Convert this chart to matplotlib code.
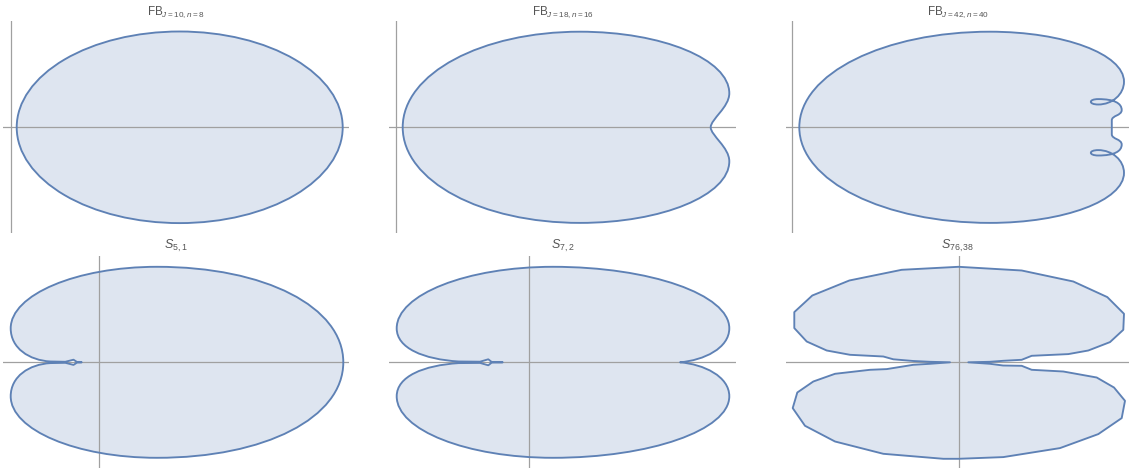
import matplotlib
matplotlib.use("Agg")
import matplotlib.pyplot as plt
from matplotlib.path import Path
from matplotlib.patches import PathPatch, Ellipse, Polygon

# ---------------------------------------------------------------- data
# Panel titles
TITLES = [r"FB$_{J=10,n=8}$", r"FB$_{J=18,n=16}$", r"FB$_{J=42,n=40}$",
          r"$S_{5,1}$", r"$S_{7,2}$", r"$S_{76,38}$"]

# FB_{J=10,n=8}: an ellipse (centre, semi-axes) in plot units, axes cross at (0, 0)
FB10_CENTER = (168.7, 0.0)
FB10_SEMI_AXES = (163.0, 95.8)

# Upper halves of the symmetric curves, as cubic Bezier control points
# ("M" start, "C" cubic segment, "L" straight piece); the lower half is the mirror image.
FB18_UPPER = [
    ("M", (6.7, 0.0)),
    ("C", (6.7, 54.0), (86.0, 95.6), (184.0, 95.6)),
    ("C", (266.0, 95.6), (333.3, 67.9), (333.3, 34.0)),
    ("C", (333.3, 20.0), (314.7, 8.0), (314.7, 0.0)),
]

FB42_UPPER = [
    ("M", (7.0, 0.0)),
    ("C", (7.0, 54.0), (92.4, 95.6), (197.7, 95.6)),
    ("C", (271.7, 95.6), (331.7, 73.2), (331.7, 45.6)),
    ("C", (331.7, 33.0), (320.0, 22.8), (306.0, 22.8)),
    ("C", (296.0, 22.8), (296.0, 28.2), (306.0, 28.2)),
    ("C", (322.0, 28.2), (329.4, 24.0), (329.4, 17.3)),
    ("C", (329.4, 11.5), (319.5, 12.0), (319.5, 7.0)),
    ("L", (319.5, 0.0)),
]

S51_UPPER = [
    ("M", (244.0, 0.0)),
    ("C", (244.0, 55.4), (165.8, 95.5), (57.7, 95.5)),
    ("C", (-22.8, 95.5), (-88.6, 67.6), (-88.6, 34.0)),
    ("C", (-88.6, 14.0), (-70.0, 2.0), (-49.0, 0.8)),
    ("L", (-34.0, 0.5)),
    ("L", (-25.8, 2.6)),
    ("L", (-22.3, 0.3)),
    ("L", (-17.6, 0.0)),
]

S72_UPPER = [
    ("M", (151.3, 0.0)),
    ("C", (175.0, 2.0), (200.6, 14.0), (200.6, 34.0)),
    ("C", (200.6, 67.8), (121.3, 95.5), (24.3, 95.5)),
    ("C", (-61.7, 95.5), (-132.0, 67.8), (-132.0, 34.0)),
    ("C", (-132.0, 14.0), (-105.0, 3.0), (-70.0, 0.8)),
    ("L", (-48.7, 0.6)),
    ("L", (-40.4, 3.0)),
    ("L", (-37.0, 0.3)),
    ("L", (-26.0, 0.0)),
]

# S_{76,38}: polygon outline
S7638_X = [0.0, 63.2, 114.8, 148.8, 165.5, 164.8, 151.5, 129.8, 109.8, 73.2, 63.2, 44.8,
           31.5, 9.8, 31.5, 44.5, 63.2, 73.2, 104.8, 138.2, 155.5, 166.5, 163.2, 139.8,
           101.5, 44.8, 0.0, -15.2, -75.2, -123.5, -153.5, -165.8, -161.2, -145.2,
           -123.5, -88.5, -71.8, -45.2, -28.5, -8.5, -28.5, -45.2, -65.2, -75.2,
           -108.5, -131.8, -151.8, -164.2, -164.2, -146.2, -109.2, -56.8]
S7638_Y = [95.5, 91.8, 80.8, 65.2, 48.5, 32.5, 20.2, 11.8, 8.2, 6.5, 2.5, 1.5,
           0.5, 0.0, -1.5, -3.2, -3.5, -7.5, -9.2, -15.2, -25.2, -38.5, -55.8, -71.8,
           -85.8, -94.8, -96.5, -96.5, -91.5, -79.2, -63.5, -45.8, -30.2, -19.2,
           -11.5, -7.5, -6.8, -2.5, -1.5, 0.0, 0.5, 1.3, 3.0, 5.8,
           7.5, 11.8, 20.8, 34.2, 50.2, 66.8, 81.8, 92.5]

# ---------------------------------------------------------------- style / layout
W, H = 1129, 470
LINE = "#5E81B5"
FILL = (0x5E / 255, 0x81 / 255, 0xB5 / 255, 0.2)
AXIS = "#a0a0a0"
TITLE_COLOR = "#555555"
LW = 1.35

plt.rcParams["mathtext.fontset"] = "custom"
plt.rcParams["mathtext.rm"] = "Liberation Sans"
plt.rcParams["mathtext.it"] = "Liberation Sans:italic"
plt.rcParams["mathtext.bf"] = "Liberation Sans:bold"
plt.rcParams["font.family"] = ["Liberation Sans", "DejaVu Sans"]

# panel boxes in pixels (x0, x1, y0, y1) and where the axes cross (ox, oy)
BOXES = [
    ((3, 349, 21, 233), (11.0, 127.3)),
    ((389, 736, 21, 233), (396.0, 127.3)),
    ((786, 1129, 21, 233), (792.3, 127.3)),
    ((3, 349, 256, 468), (99.3, 362.3)),
    ((389, 736, 256, 468), (528.7, 362.3)),
    ((786, 1129, 256, 468), (958.5, 362.3)),
]
TITLE_Y = [12, 12, 12, 246, 246, 246]
TITLE_SIZE = [8.4, 8.4, 8.4, 9.0, 9.0, 9.0]

fig = plt.figure(figsize=(W / 100, H / 100), dpi=100)


def make_axes(i):
    (x0, x1, y0, y1), (ox, oy) = BOXES[i]
    ax = fig.add_axes([x0 / W, 1 - y1 / H, (x1 - x0) / W, (y1 - y0) / H])
    ax.set_xlim(x0 - ox, x1 - ox)
    ax.set_ylim(oy - y1, oy - y0)
    ax.axis("off")
    ax.axhline(0, color=AXIS, lw=0.9, zorder=2)
    ax.axvline(0, color=AXIS, lw=0.9, zorder=2)
    fig.text((x0 + x1) / 2 / W, 1 - TITLE_Y[i] / H, TITLES[i], ha="center",
             va="center", color=TITLE_COLOR, fontsize=TITLE_SIZE[i])
    return ax


def to_path(segments):
    verts, codes = [], []
    for seg in segments:
        kind, pts = seg[0], seg[1:]
        for p in pts:
            verts.append(p)
        if kind == "M":
            codes.append(Path.MOVETO)
        elif kind == "L":
            codes.append(Path.LINETO)
        else:
            codes += [Path.CURVE4] * 3
    # mirrored, reversed lower half
    rv = [(x, -y) for (x, y) in verts[::-1]]
    rc = codes[1:][::-1]
    verts = verts + rv[1:] + [verts[0]]
    codes = codes + rc + [Path.CLOSEPOLY]
    return Path(verts, codes)


# panel 1
ax = make_axes(0)
ax.add_patch(Ellipse(FB10_CENTER, 2 * FB10_SEMI_AXES[0], 2 * FB10_SEMI_AXES[1],
                     facecolor=FILL, edgecolor="none", zorder=1))
ax.add_patch(Ellipse(FB10_CENTER, 2 * FB10_SEMI_AXES[0], 2 * FB10_SEMI_AXES[1],
                     facecolor="none", edgecolor=LINE, lw=LW, zorder=3))

# panels 2-5
for i, upper in zip([1, 2, 3, 4], [FB18_UPPER, FB42_UPPER, S51_UPPER, S72_UPPER]):
    ax = make_axes(i)
    p = to_path(upper)
    ax.add_patch(PathPatch(p, facecolor=FILL, edgecolor="none", zorder=1))
    ax.add_patch(PathPatch(p, facecolor="none", edgecolor=LINE, lw=LW,
                           joinstyle="round", zorder=3))

# panel 6
ax = make_axes(5)
pts = list(zip(S7638_X, S7638_Y))
ax.add_patch(Polygon(pts, closed=True, facecolor=FILL, edgecolor="none", zorder=1))
ax.add_patch(Polygon(pts, closed=True, facecolor="none", edgecolor=LINE, lw=LW,
                     joinstyle="round", zorder=3))

fig.savefig("out.png", dpi=100)
